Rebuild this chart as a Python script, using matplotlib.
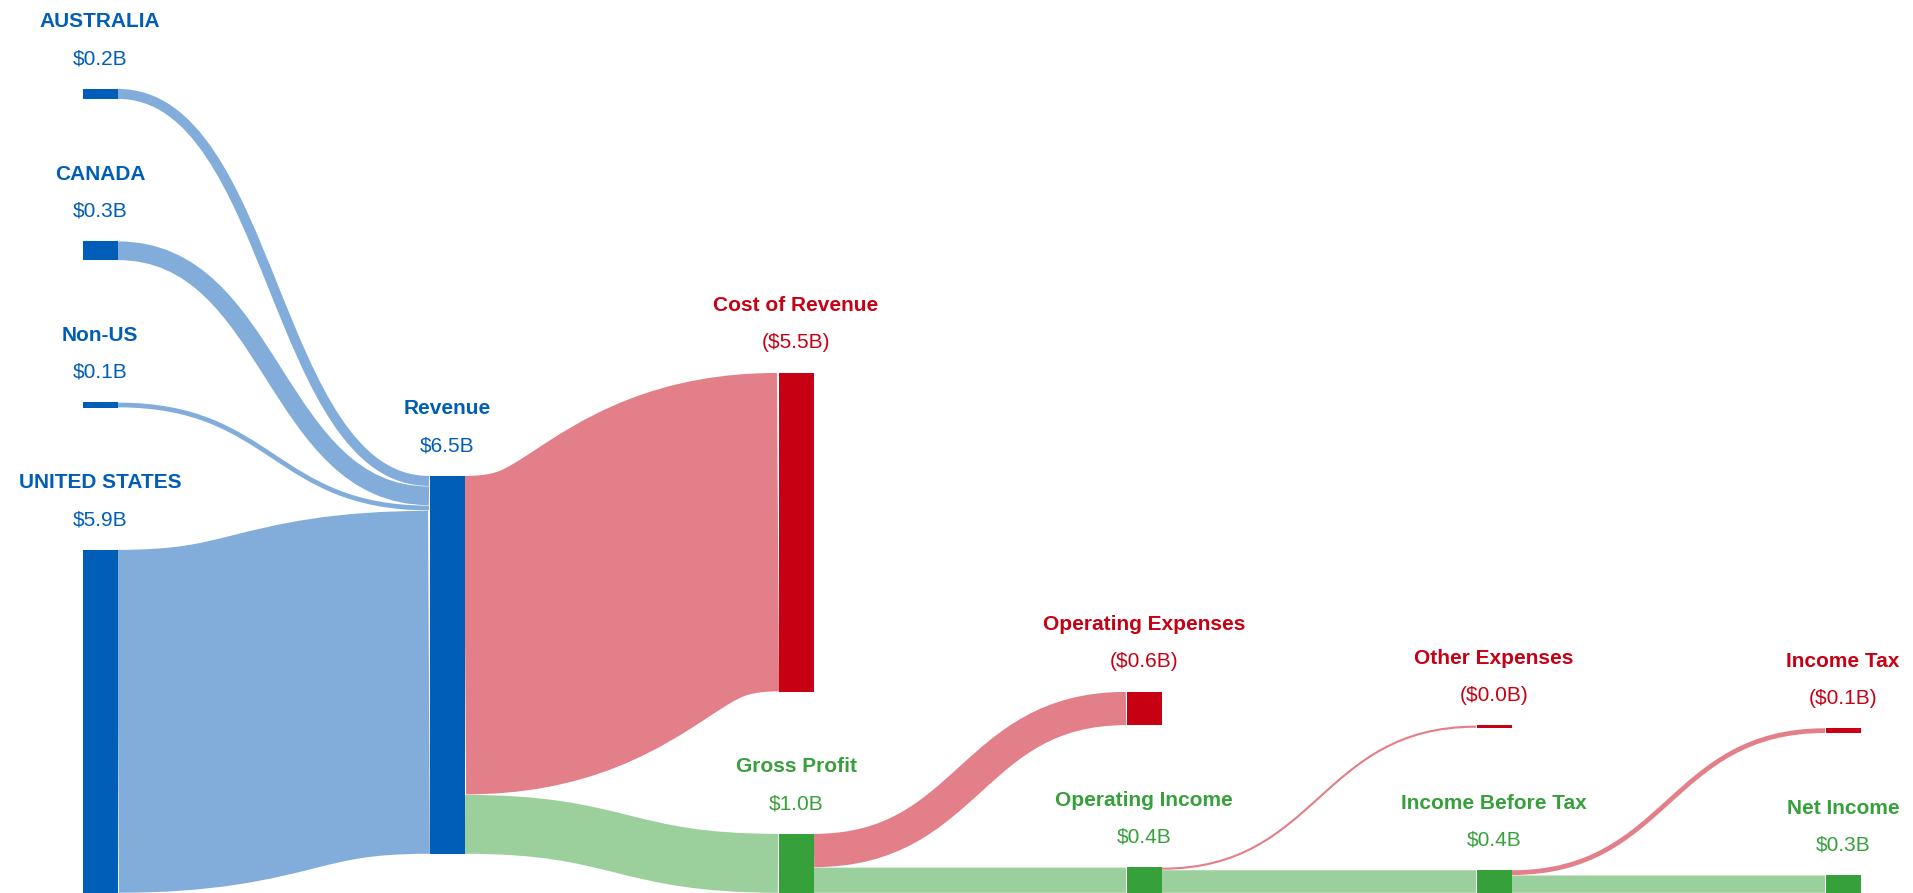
import matplotlib
matplotlib.use("Agg")
import matplotlib.pyplot as plt
from matplotlib.path import Path
from matplotlib.patches import PathPatch, Rectangle

# ---------------- data ----------------
node_names = ["AUSTRALIA", "CANADA", "Non-US", "UNITED STATES", "Revenue",
              "Cost of Revenue", "Gross Profit", "Operating Expenses", "Operating Income",
              "Other Expenses", "Income Before Tax", "Income Tax", "Net Income"]
node_kind = ["src", "src", "src", "src", "src",
             "exp", "inc", "exp", "inc", "exp", "inc", "exp", "inc"]
node_column = [0, 0, 0, 0, 1, 2, 2, 3, 3, 4, 4, 5, 5]

link_source = ["AUSTRALIA", "CANADA", "Non-US", "UNITED STATES", "Revenue", "Revenue",
               "Gross Profit", "Gross Profit", "Operating Income", "Operating Income",
               "Income Before Tax", "Income Before Tax"]
link_target = ["Revenue", "Revenue", "Revenue", "Revenue", "Cost of Revenue", "Gross Profit",
               "Operating Expenses", "Operating Income", "Other Expenses", "Income Before Tax",
               "Income Tax", "Net Income"]
link_value = [0.18, 0.33, 0.09, 5.90, 5.48, 1.02, 0.58, 0.44, 0.045, 0.395, 0.09, 0.305]  # $B

# ---------------- style / layout ----------------
W, H = 1913, 893
NODE_COLOR = {"src": "#005EB8", "exp": "#C80014", "inc": "#36A03B"}
LINK_COLOR = {"src": "#82ADDB", "exp": "#E37F88", "inc": "#9BCF9B"}
col_x = [82, 429, 778, 1126, 1476, 1825]
node_w = 36
px_per_b = 58.2
gap = 142
col_bottom = {0: 893, 1: 854, 2: 893, 3: 893, 4: 893, 5: 893}

idx = {n: i for i, n in enumerate(node_names)}
vin = [0.0] * len(node_names)
vout = [0.0] * len(node_names)
for s, t, v in zip(link_source, link_target, link_value):
    vout[idx[s]] += v
    vin[idx[t]] += v
node_val = [max(a, b) for a, b in zip(vin, vout)]

top = [0.0] * len(node_names)
hgt = [v * px_per_b for v in node_val]
for c in range(6):
    members = [i for i in range(len(node_names)) if node_column[i] == c]
    y = col_bottom[c]
    for i in reversed(members):
        top[i] = y - hgt[i]
        y = top[i] - gap

fig = plt.figure(figsize=(W / 100, H / 100), dpi=100)
ax = fig.add_axes([0, 0, 1, 1])
ax.set_xlim(0, W)
ax.set_ylim(H, 0)
ax.axis("off")

PT_PER_PX = 72.0 / 100.0

# links drawn as stroked curves (constant perpendicular thickness)
out_off = [0.0] * len(node_names)
in_off = [0.0] * len(node_names)
for s, t, v in zip(link_source, link_target, link_value):
    si, ti = idx[s], idx[t]
    h = v * px_per_b
    x0 = col_x[node_column[si]] + node_w
    x1 = col_x[node_column[ti]]
    y0 = top[si] + out_off[si] + h / 2
    y1 = top[ti] + in_off[ti] + h / 2
    out_off[si] += h
    in_off[ti] += h
    xm = (x0 + x1) / 2
    path = Path([(x0, y0), (xm, y0), (xm, y1), (x1, y1)],
                [Path.MOVETO, Path.CURVE4, Path.CURVE4, Path.CURVE4])
    kind = node_kind[ti]
    ax.add_patch(PathPatch(path, facecolor="none", edgecolor=LINK_COLOR[kind],
                           linewidth=max(h - 0.5, 1.5) * PT_PER_PX,
                           capstyle="butt", joinstyle="round", zorder=1))

# nodes + labels
for i, n in enumerate(node_names):
    x = col_x[node_column[i]]
    col = NODE_COLOR[node_kind[i]]
    ax.add_patch(Rectangle((x + 0.5, top[i]), node_w - 0.5, hgt[i], facecolor=col,
                           edgecolor="none", zorder=2))
    cx = x + node_w / 2
    val = node_val[i]
    label = f"(${val:.1f}B)" if node_kind[i] == "exp" else f"${val:.1f}B"
    ax.text(cx, top[i] - 67, n, ha="center", va="center", color=col,
            fontsize=15, fontweight="bold", family="Liberation Sans")
    ax.text(cx, top[i] - 30, label, ha="center", va="center", color=col,
            fontsize=15, family="Liberation Sans")

fig.savefig("out.png", dpi=100)
